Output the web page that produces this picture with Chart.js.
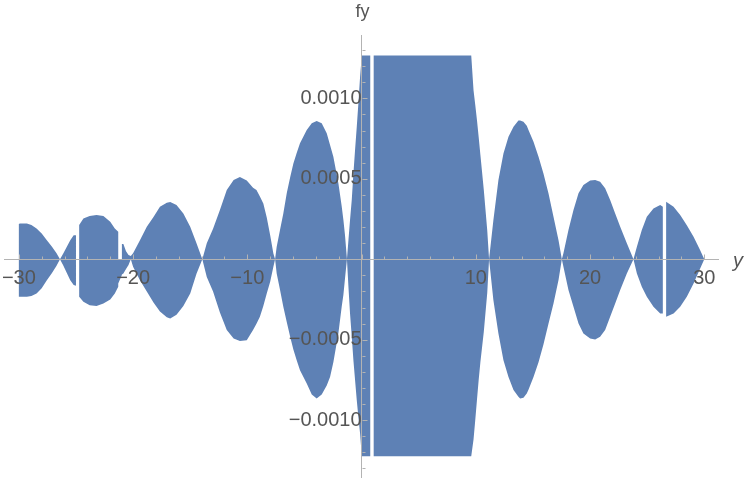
<!DOCTYPE html>
<html>
<head>
<meta charset="utf-8">
<script src="https://cdn.jsdelivr.net/npm/chart.js@4.4.1/dist/chart.umd.min.js"></script>
<style>
  body { margin: 0; background: #fff; }
  #plot { display: block; }
</style>
</head>
<body>
<canvas id="plot" width="747" height="480"></canvas>
<script>
// envelope of the (very dense) oscillation
const envX = [
  -30.0, -29.9, -29.3, -28.9, -28.45, -28.0, -27.55, -27.1, -26.7, -26.4,
  -26.1, -25.8, -25.5, -25.2, -25.0, -25.0, -24.72, -24.72,
  -24.35, -23.8, -23.2, -22.6, -22.0, -21.6, -21.3, -21.3,
  -21.0, -20.98, -20.85, -20.62, -20.4, -20.2,
  -20.0, -19.4, -18.8, -18.2, -17.65, -17.05, -16.75, -16.2, -15.6, -15.0, -14.45, -13.94,
  -13.55, -13.0, -12.4, -11.8, -11.2, -10.65, -10.05, -9.5, -9.2, -8.9, -8.6, -8.3, -8.0, -7.72, -7.57,
  -7.43, -7.14, -6.85, -6.55, -6.25, -5.97, -5.68, -5.39, -4.8, -4.36, -3.93, -3.49, -3.05, -2.76, -2.47, -2.03, -1.74, -1.59, -1.45, -1.28,
  -1.15, -1.01, -0.86, -0.715, -0.57, -0.42, -0.28, -0.13, 0.02, 0.76, 0.76, 1.06, 1.06, 9.6, 9.8, 9.95, 10.1, 10.25, 10.4, 10.7, 11.0, 11.16,
  11.54, 11.98, 12.42, 12.86, 13.3, 13.73, 13.88, 14.17, 14.46, 14.61, 15.05, 15.49, 15.92, 16.36, 16.8, 17.24, 17.53,
  17.67, 18.11, 18.55, 18.99, 19.42, 20.01, 20.45, 20.88, 21.32, 21.76, 22.2, 22.64, 23.22, 23.8,
  24.1, 24.53, 24.97, 25.55, 26.14, 26.37, 26.37, 26.66, 26.66, 27.31, 27.89, 28.47, 29.06, 29.64, 30.0
];
const envTop = [
  2.19e-4, 2.23e-4, 2.23e-4, 2.13e-4, 1.92e-4, 1.61e-4, 1.19e-4, 7.8e-5, 3.7e-5, 0,
  3.7e-5, 7.8e-5, 1.19e-4, 1.5e-4, 1.5e-4, 0, 0, 2.13e-4,
  2.54e-4, 2.69e-4, 2.75e-4, 2.69e-4, 2.33e-4, 1.92e-4, 1.71e-4, 0,
  0, 9.45e-5, 9.45e-5, 5.0e-5, 2.6e-5, 2.0e-5,
  3.7e-5, 1.19e-4, 2.02e-4, 2.64e-4, 3.27e-4, 3.52e-4, 3.56e-4, 3.37e-4, 2.85e-4, 2.02e-4, 9.9e-5, 0,
  1.0e-4, 1.9e-4, 3.06e-4, 4.3e-4, 4.93e-4, 5.11e-4, 4.9e-4, 4.45e-4, 4.3e-4, 3.9e-4, 3.47e-4, 2.6e-4, 1.5e-4, 3.6e-5, 0,
  7.8e-5, 1.82e-4, 2.85e-4, 4.1e-4, 5.1e-4, 5.96e-4, 6.6e-4, 7.21e-4, 8.03e-4, 8.45e-4, 8.59e-4, 8.45e-4, 7.83e-4, 7.1e-4, 6.38e-4, 4.72e-4, 3.3e-4, 2.44e-4, 1.5e-4, 0,
  1.19e-4, 2.44e-4, 3.68e-4, 5.34e-4, 6.79e-4, 8.24e-4, 9.69e-4, 1.135e-3, 1.266e-3, 1.266e-3, 0, 0, 1.266e-3, 1.266e-3, 1.05e-3, 9.6e-4, 8.66e-4, 7.6e-4, 6.5e-4, 4.3e-4, 1.8e-4, 0,
  2.44e-4, 4.93e-4, 6.58e-4, 7.62e-4, 8.24e-4, 8.62e-4, 8.62e-4, 8.55e-4, 8.3e-4, 8.03e-4, 7.31e-4, 6.38e-4, 5.34e-4, 4.1e-4, 2.64e-4, 1.19e-4, 0,
  3.7e-5, 1.82e-4, 3.06e-4, 4.1e-4, 4.62e-4, 4.89e-4, 4.93e-4, 4.82e-4, 4.41e-4, 3.68e-4, 2.85e-4, 2.02e-4, 9.9e-5, 0,
  7.8e-5, 1.82e-4, 2.64e-4, 3.16e-4, 3.37e-4, 3.27e-4, 0, 0, 3.58e-4, 3.27e-4, 2.75e-4, 2.12e-4, 1.4e-4, 5.7e-5, 0
];
const envBottom = [
  -2.33e-4, -2.33e-4, -2.33e-4, -2.28e-4, -2.12e-4, -1.8e-4, -1.3e-4, -8.5e-5, -4.0e-5, 0,
  -4.0e-5, -8.5e-5, -1.3e-4, -1.6e-4, -1.65e-4, 0, 0, -2.33e-4,
  -2.64e-4, -2.85e-4, -2.91e-4, -2.75e-4, -2.5e-4, -2.12e-4, -1.71e-4, -1.5e-4,
  -1.0e-4, -9.5e-5, -8.8e-5, -6.0e-5, -3.5e-5, 0,
  -4.6e-5, -1.3e-4, -2.0e-4, -2.7e-4, -3.25e-4, -3.6e-4, -3.68e-4, -3.45e-4, -2.9e-4, -2.12e-4, -9.0e-5, 0,
  -1.1e-4, -2.0e-4, -3.3e-4, -4.4e-4, -4.92e-4, -5.07e-4, -5.03e-4, -4.4e-4, -4.0e-4, -3.57e-4, -2.9e-4, -2.12e-4, -1.4e-4, -4.6e-5, 0,
  -8.8e-5, -1.9e-4, -2.95e-4, -3.9e-4, -4.82e-4, -5.6e-4, -6.27e-4, -6.9e-4, -7.72e-4, -8.4e-4, -8.65e-4, -8.4e-4, -7.85e-4, -7.31e-4, -6.4e-4, -4.6e-4, -2.95e-4, -2.2e-4, -1.2e-4, 0,
  -1.7e-4, -3.37e-4, -4.8e-4, -6.27e-4, -7.5e-4, -8.76e-4, -9.8e-4, -1.083e-3, -1.224e-3, -1.224e-3, 0, 0, -1.224e-3, -1.224e-3, -1.12e-3, -1.0e-3, -8.75e-4, -7.5e-4, -6.4e-4, -4.5e-4, -2.1e-4, 0,
  -2.54e-4, -4.61e-4, -6.27e-4, -7.31e-4, -8.13e-4, -8.55e-4, -8.65e-4, -8.6e-4, -8.34e-4, -8.1e-4, -7.31e-4, -6.4e-4, -5.3e-4, -4.0e-4, -2.74e-4, -1.29e-4, 0,
  -4.6e-5, -1.91e-4, -2.95e-4, -3.99e-4, -4.61e-4, -4.92e-4, -4.98e-4, -4.82e-4, -4.4e-4, -3.57e-4, -2.74e-4, -1.91e-4, -8.8e-5, 0,
  -8.8e-5, -1.71e-4, -2.33e-4, -2.95e-4, -3.37e-4, -3.37e-4, 0, 0, -3.57e-4, -3.37e-4, -2.95e-4, -2.33e-4, -1.5e-4, -5.7e-5, 0
];

const xLabelTicks = [-30, -20, -10, 10, 20, 30];
const yLabelTicks = [-0.001, -0.0005, 0.0005, 0.001];

const fillBlue = '#5e81b5';
const axisGray = '#b3b3b3';
const labelGray = '#555555';
const fontFamily = '"Liberation Sans", Arial, sans-serif';

// closed outline: top edge left to right, bottom edge back again
const outline = envX.map((x, i) => ({x: x, y: envTop[i]}))
  .concat(envX.map((x, i) => ({x: x, y: envBottom[i]})).reverse());

const minus = (s) => s.replace('-', '\u2212');

// centred axes should not push the plot area around
const noPadding = (scale) => {
  scale.paddingLeft = 0;
  scale.paddingRight = 0;
  scale.paddingTop = 0;
  scale.paddingBottom = 0;
};

const axisDecor = {
  id: 'axisDecor',
  afterDraw(chart) {
    const {ctx, chartArea} = chart;
    const xs = chart.scales.x;
    const ys = chart.scales.y;
    const x0 = Math.round(xs.getPixelForValue(0)) + 0.5;
    const y0 = Math.round(ys.getPixelForValue(0)) + 0.5;
    ctx.save();
    ctx.strokeStyle = axisGray;
    ctx.lineWidth = 1;
    ctx.beginPath();
    for (let k = -15; k <= 15; k++) {
      const px = Math.round(xs.getPixelForValue(k * 2)) + 0.5;
      const len = k % 5 === 0 ? 5 : 3;
      ctx.moveTo(px, y0);
      ctx.lineTo(px, y0 - len);
    }
    for (let k = -13; k <= 13; k++) {
      const py = Math.round(ys.getPixelForValue(k * 0.0001)) + 0.5;
      const len = k % 5 === 0 ? 5 : 3;
      ctx.moveTo(x0, py);
      ctx.lineTo(x0 + len, py);
    }
    ctx.stroke();

    ctx.fillStyle = labelGray;
    ctx.font = '18px ' + fontFamily;
    ctx.textAlign = 'center';
    ctx.textBaseline = 'alphabetic';
    ctx.fillText('fy', x0, 17);
    ctx.font = 'italic 20px ' + fontFamily;
    ctx.textAlign = 'left';
    ctx.textBaseline = 'middle';
    ctx.fillText('y', chartArea.right + 15, y0 + 2);
    ctx.restore();
  }
};

new Chart(document.getElementById('plot'), {
  type: 'line',
  data: {
    datasets: [{
      data: outline,
      fill: 'shape',
      backgroundColor: fillBlue,
      borderColor: fillBlue,
      borderWidth: 0,
      pointRadius: 0,
      tension: 0
    }]
  },
  options: {
    responsive: false,
    animation: false,
    layout: {
      padding: {left: 4, right: 29, top: 35, bottom: 3}
    },
    plugins: {
      legend: {display: false},
      tooltip: {enabled: false}
    },
    scales: {
      x: {
        type: 'linear',
        min: -31.3,
        max: 31.2,
        position: {y: 0},
        afterFit: noPadding,
        grid: {drawOnChartArea: false, drawTicks: false},
        border: {color: axisGray, width: 1, z: 1},
        ticks: {
          z: 1,
          stepSize: 10,
          autoSkip: false,
          includeBounds: false,
          maxRotation: 0,
          padding: 7,
          color: labelGray,
          font: {family: fontFamily, size: 20},
          callback: (v) => xLabelTicks.includes(v) ? minus(String(v)) : ''
        }
      },
      y: {
        type: 'linear',
        min: -0.001353,
        max: 0.001394,
        position: {x: 0},
        afterFit: noPadding,
        grid: {drawOnChartArea: false, drawTicks: false},
        border: {color: axisGray, width: 1, z: 1},
        ticks: {
          z: 1,
          stepSize: 0.0005,
          autoSkip: false,
          includeBounds: false,
          padding: 8,
          color: labelGray,
          font: {family: fontFamily, size: 20},
          callback: (v) => {
            const hit = yLabelTicks.find(t => Math.abs(t - v) < 1e-9);
            return hit === undefined ? '' : minus(hit.toFixed(4));
          }
        }
      }
    }
  },
  plugins: [axisDecor]
});
</script>
</body>
</html>
